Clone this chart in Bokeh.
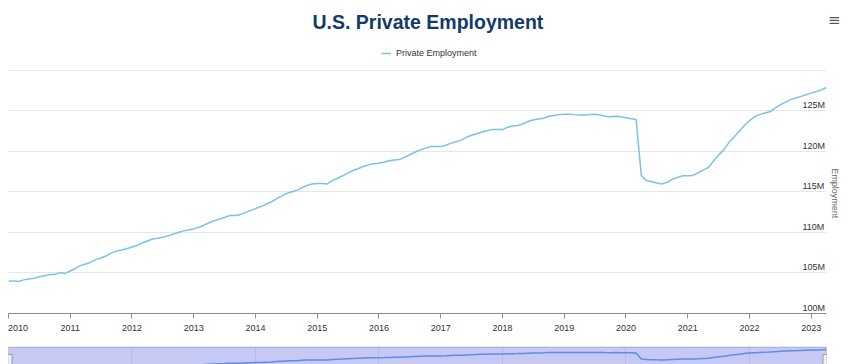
import pandas as pd
from bokeh.plotting import figure
from bokeh.layouts import column
from bokeh.models import (Range1d, FixedTicker, PrintfTickFormatter, DatetimeTickFormatter,
                          Legend, LegendItem, Grid, Div)
from bokeh.embed import file_html
from bokeh.resources import INLINE

TITLE = "U.S. Private Employment"
SERIES_NAME = "Private Employment"
Y_AXIS_TITLE = "Employment"
START_MONTH = "2010-01-01"

# monthly private employment, millions
emp_2010 = [104.0, 104.0, 103.95, 104.15, 104.25, 104.35, 104.55, 104.65, 104.8, 104.8, 105.05, 104.95]
emp_2011 = [105.25, 105.55, 105.9, 106.1, 106.3, 106.65, 106.85, 107.1, 107.45, 107.7, 107.85, 108.0]
emp_2012 = [108.2, 108.4, 108.7, 108.95, 109.2, 109.3, 109.4, 109.6, 109.8, 110.0, 110.2, 110.3]
emp_2013 = [110.45, 110.65, 110.9, 111.2, 111.45, 111.65, 111.85, 112.1, 112.1, 112.2, 112.45, 112.7]
emp_2014 = [112.95, 113.2, 113.45, 113.75, 114.1, 114.45, 114.8, 115.0, 115.2, 115.5, 115.8, 116.0]
emp_2015 = [116.05, 116.05, 116.0, 116.4, 116.7, 117.0, 117.35, 117.65, 117.9, 118.15, 118.35, 118.5]
emp_2016 = [118.55, 118.7, 118.85, 118.95, 119.0, 119.3, 119.6, 119.9, 120.2, 120.4, 120.6, 120.6]
emp_2017 = [120.6, 120.8, 121.0, 121.2, 121.4, 121.75, 122.0, 122.2, 122.4, 122.55, 122.7, 122.7]
emp_2018 = [122.7, 123.0, 123.15, 123.2, 123.4, 123.7, 123.9, 124.0, 124.1, 124.35, 124.45, 124.55]
emp_2019 = [124.6, 124.6, 124.55, 124.5, 124.5, 124.55, 124.6, 124.5, 124.35, 124.3, 124.35, 124.3]
emp_2020 = [124.15, 124.05, 123.95, 117.0, 116.4, 116.3, 116.1, 116.0, 116.2, 116.55, 116.8, 117.0]
emp_2021 = [117.0, 117.05, 117.35, 117.7, 118.0, 118.8, 119.55, 120.2, 121.1, 121.8, 122.5, 123.2]
emp_2022 = [123.8, 124.3, 124.55, 124.75, 124.9, 125.35, 125.75, 126.1, 126.4, 126.6, 126.8, 127.0]
emp_2023 = [127.2, 127.4, 127.6, 127.9]

year_ticks = list(range(2010, 2024))
nav_grid_years = list(range(2012, 2024, 2))
y_label_values = [100, 105, 110, 115, 120, 125]
y_grid_values = [100, 105, 110, 115, 120, 125, 130]

values = (emp_2010 + emp_2011 + emp_2012 + emp_2013 + emp_2014 + emp_2015 + emp_2016
          + emp_2017 + emp_2018 + emp_2019 + emp_2020 + emp_2021 + emp_2022 + emp_2023)
dates = pd.date_range(START_MONTH, periods=len(values), freq="MS")


def ms(year):
    return pd.Timestamp(f"{year}-01-01").value // 10**6


FONT = "Liberation Sans"
LINE_COLOR = "#7cc0ec"
NBSP = "\u00a0"
LABEL_LIFT = 0.7            # lifts right-axis labels just above their grid lines
Y_MIN, Y_MAX = 100, 133.7   # headroom above the 130M grid line holds the legend

x_range = Range1d(dates[0], dates[-1])

p = figure(width=850, height=346, x_axis_type="datetime", x_range=x_range,
           y_range=Range1d(Y_MIN, Y_MAX), y_axis_location="right", title=TITLE,
           output_backend="svg", toolbar_location=None,
           min_border_left=8, min_border_right=24, min_border_top=40, min_border_bottom=33)
p.outline_line_color = None
p.title.align = "left"
p.title.offset = 304
p.title.standoff = 16
p.title.text_font = FONT
p.title.text_font_size = "19.5px"
p.title.text_font_style = "bold"
p.title.text_color = "#143a6b"

r = p.line(dates, values, line_color=LINE_COLOR, line_width=1.5)

# x axis
xa = p.xaxis[0]
xa.ticker = FixedTicker(ticks=[ms(y) for y in year_ticks])
xa.formatter = DatetimeTickFormatter(years="%Y", months="%Y", days="%Y", hours="%Y")
xa.major_label_overrides = {ms(year_ticks[0]): NBSP * 3 + str(year_ticks[0])}
xa.axis_line_color = "#8c8c8c"
xa.major_tick_line_color = "#8c8c8c"
xa.major_tick_out = 5
xa.major_tick_in = 0
xa.minor_tick_out = 0
xa.minor_tick_in = 0
xa.major_label_standoff = 4
xa.major_label_text_font = FONT
xa.major_label_text_font_size = "9px"
xa.major_label_text_color = "#333333"
p.xgrid.visible = False

# right y axis
ya = p.yaxis[0]
ya.ticker = FixedTicker(ticks=[v + LABEL_LIFT for v in y_label_values])
ya.formatter = PrintfTickFormatter(format="%dM")
ya.axis_line_color = None
ya.major_tick_out = 0
ya.major_tick_in = 0
ya.minor_tick_out = 0
ya.minor_tick_in = 0
ya.major_label_standoff = -24
ya.major_label_text_font = FONT
ya.major_label_text_font_size = "9px"
ya.major_label_text_color = "#333333"
ya.axis_label = NBSP * 13 + Y_AXIS_TITLE   # centres the title on the 100M-130M span
ya.axis_label_text_font = FONT
ya.axis_label_text_font_size = "9px"
ya.axis_label_text_font_style = "normal"
ya.axis_label_text_color = "#666666"
ya.axis_label_standoff = 2
p.ygrid.ticker = FixedTicker(ticks=y_grid_values)
p.ygrid.grid_line_color = "#e6e6e6"

legend = Legend(items=[LegendItem(label=SERIES_NAME, renderers=[r])],
                orientation="horizontal", location=(373, 255),
                glyph_width=10, glyph_height=10, label_height=10, label_standoff=5,
                label_text_font=FONT, label_text_font_size="9px", label_text_color="#333333",
                padding=0, margin=0, border_line_color=None, background_fill_alpha=0)
p.add_layout(legend)

# export-menu icon in the top right corner
menu = Div(text="\u2261", width=14, height=20,
           styles={"position": "absolute", "left": "828px", "top": "10px", "z-index": "100",
                   "font-family": "DejaVu Sans", "font-size": "15px", "line-height": "20px",
                   "color": "#555555", "margin": "0", "overflow": "visible"})

# navigator strip (only its top part is within the window)
NAV_MIN, NAV_MAX = 110.8, 131.3
NAV_MASK_TOP = 130.7
NAV_MASK_BOTTOM = 100.0
HANDLE_Y = 113.65

nav = figure(width=850, height=18, x_axis_type="datetime", x_range=x_range,
             y_range=Range1d(NAV_MIN, NAV_MAX), x_axis_location=None, y_axis_location=None,
             output_backend="svg", toolbar_location=None,
             min_border_left=8, min_border_right=24, min_border_top=0, min_border_bottom=0)
nav.outline_line_color = None
nav.xgrid.visible = False
nav.ygrid.visible = False
nav.add_layout(Grid(dimension=0, ticker=FixedTicker(ticks=[ms(y) for y in nav_grid_years]),
                    grid_line_color="#e6e6e6"))
nav.line(dates, values, line_color="#5a98e6", line_width=1.5)
nav.quad(left=[dates[0]], right=[dates[-1]], top=[NAV_MASK_TOP], bottom=[NAV_MASK_BOTTOM],
         fill_color="#6f79e0", fill_alpha=0.4, line_color="#9aa0c4", line_width=1)
nav.rect(x=[dates[0], dates[-1]], y=[HANDLE_Y, HANDLE_Y], width=7, height=15,
         width_units="screen", height_units="screen",
         fill_color="#f2f2f2", line_color="#999999", line_width=1)

layout = column(p, nav, menu, spacing=0)

open("out.html", "w").write(file_html(layout, INLINE))
